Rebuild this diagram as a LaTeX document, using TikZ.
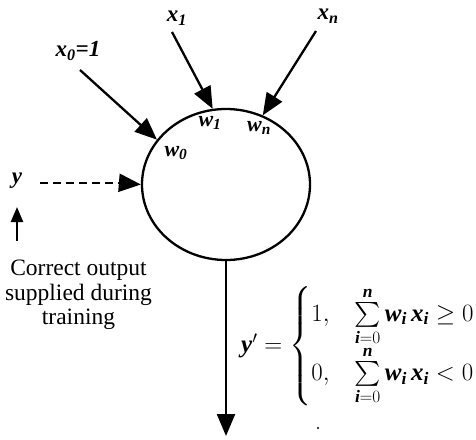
\documentclass[tikz,border=0pt]{standalone}
\usepackage{amsmath}
\usepackage{fontspec}
\setmainfont{Liberation Serif}
\usetikzlibrary{arrows.meta,shapes.geometric}
\newcommand\bi[1]{\text{\bfseries\itshape #1}}
\tikzset{
  neuron/.style={draw, ellipse, line width=2.3pt, inner sep=0pt, minimum width=168pt, minimum height=151pt},
  bigarrow/.style={line width=2.3pt, -{Triangle[length=22pt,width=18pt]}},
  smallarrow/.style={line width=2.3pt, -{Triangle[length=15pt,width=12pt]}},
  lab/.style={font=\fontsize{23}{24}\selectfont, inner sep=0pt},
  wlab/.style={font=\fontsize{22}{24}\selectfont, inner sep=0pt},
  txt/.style={font=\fontsize{23.5}{24.5}\selectfont, align=center, inner sep=0pt}
}
\begin{document}
\begin{tikzpicture}[x=1pt,y=-1pt]
\useasboundingbox (0,0) rectangle (476,439);
\node[neuron] (n) at (226,184.5) {};
% inputs
\node[lab] (x0) at (78,51) {$\bi{x}_{\bi{0}}\bi{=1}$};
\node[lab] (x1) at (177,18) {$\bi{x}_{\bi{1}}$};
\node[lab] (xn) at (328,16) {$\bi{x}_{\bi{n}}$};
\coordinate (s0) at (80,70);
\coordinate (s1) at (172,32);
\coordinate (sn) at (316,31);
\draw[bigarrow] (s0) -- (n.147.6);
\draw[bigarrow] (s1) -- (n.100.4);
\draw[bigarrow] (sn) -- (n.62.6);
% weights
\node[wlab] (w0) at (176,153) {$\bi{w}_{\bi{0}}$};
\node[wlab] (w1) at (210,123) {$\bi{w}_{\bi{1}}$};
\node[wlab] (wn) at (259,128) {$\bi{w}_{\bi{n}}$};
% target
\node[lab] (y) at (17,181) {$\bi{y}$};
\coordinate (ys) at (40,183);
\coordinate (yd) at (122,183);
\draw[line width=2.3pt, dash pattern=on 8pt off 5pt] (ys) -- (yd);
\draw[bigarrow] (yd) -- (n.west);
\coordinate (ua) at (17,241);
\coordinate (ub) at (17,207);
\draw[smallarrow] (ua) -- (ub);
\node[txt, anchor=north] (c) at (78.5,260) {Correct output\\supplied during\\training};
% output
\coordinate (out) at (226,436);
\draw[bigarrow] (n.south) -- (out);
\node[inner sep=0pt, anchor=west, font=\fontsize{25}{27}\selectfont] (eq) at (241,346)
 {$\bi{y}'\mathrel{\mathbf{=}}\begin{cases}1, & \sum\limits_{\bi{i}=0}^{\bi{n}}\bi{w}_{\bi{i}}\,\bi{x}_{\bi{i}}\ge 0\\[8pt]
 0, & \sum\limits_{\bi{i}=0}^{\bi{n}}\bi{w}_{\bi{i}}\,\bi{x}_{\bi{i}}<0\end{cases}$};
\fill (318,428) circle (1.2pt);
\end{tikzpicture}
\end{document}
